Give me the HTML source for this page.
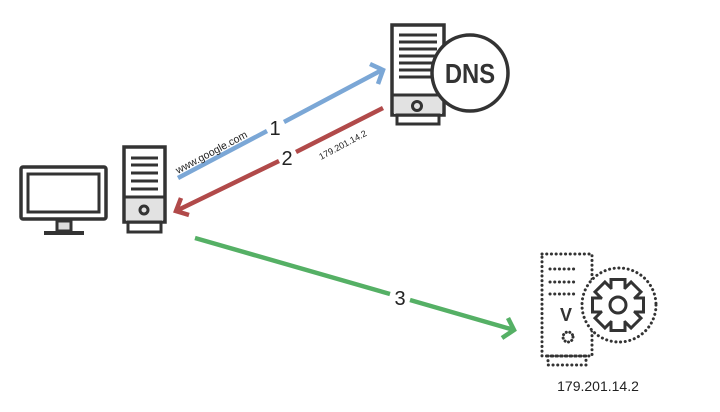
<!DOCTYPE html>
<html><head><meta charset="utf-8"><style>
html,body{margin:0;padding:0;background:#fff;}
svg{display:block;font-family:"Liberation Sans","DejaVu Sans",sans-serif;}
</style></head><body>
<svg width="720" height="412" viewBox="0 0 720 412" xmlns="http://www.w3.org/2000/svg">
<defs>
 <g id="gear">
  <rect x="-5.5" y="-24" width="11" height="12"/>
  <rect x="-5.5" y="-24" width="11" height="12" transform="rotate(45)"/>
  <rect x="-5.5" y="-24" width="11" height="12" transform="rotate(90)"/>
  <rect x="-5.5" y="-24" width="11" height="12" transform="rotate(135)"/>
  <rect x="-5.5" y="-24" width="11" height="12" transform="rotate(180)"/>
  <rect x="-5.5" y="-24" width="11" height="12" transform="rotate(225)"/>
  <rect x="-5.5" y="-24" width="11" height="12" transform="rotate(270)"/>
  <rect x="-5.5" y="-24" width="11" height="12" transform="rotate(315)"/>
  <circle r="17"/>
 </g>
</defs>
<rect width="720" height="412" fill="#fff"/>
<g stroke="#333" stroke-width="3.5" fill="none">
 <!-- monitor -->
 <rect x="21" y="167" width="85" height="52" rx="2"/>
 <rect x="28" y="174" width="71" height="38" stroke-width="3"/>
 <rect x="57" y="221" width="14" height="10" fill="#ddd" stroke-width="3"/>
 <line x1="44" y1="233" x2="84" y2="233" stroke-width="4"/>
 <!-- pc tower -->
 <rect x="124" y="147" width="41" height="75" fill="#fff"/>
 <rect x="126" y="197" width="37" height="24" fill="#e2e2e2" stroke="none"/>
 <line x1="124" y1="197" x2="165" y2="197" stroke-width="3"/>
 <g stroke-width="3"><line x1="131" y1="158" x2="158" y2="158"/><line x1="131" y1="165" x2="158" y2="165"/><line x1="131" y1="173" x2="158" y2="173"/><line x1="131" y1="181" x2="158" y2="181"/><line x1="131" y1="189" x2="158" y2="189"/></g>
 <circle cx="144" cy="210" r="4" stroke-width="3"/>
 <rect x="128" y="222" width="33" height="10" stroke-width="3"/>
 <!-- DNS tower -->
 <rect x="392" y="25" width="52" height="90" fill="#fff"/>
 <rect x="394" y="95" width="48" height="19" fill="#e2e2e2" stroke="none"/>
 <line x1="392" y1="95" x2="444" y2="95" stroke-width="3"/>
 <g stroke-width="3"><line x1="399" y1="35" x2="437" y2="35"/><line x1="399" y1="42" x2="437" y2="42"/><line x1="399" y1="49" x2="437" y2="49"/><line x1="399" y1="56" x2="437" y2="56"/><line x1="399" y1="63" x2="437" y2="63"/><line x1="399" y1="70" x2="437" y2="70"/><line x1="399" y1="77" x2="437" y2="77"/></g>
 <circle cx="417" cy="106" r="4.5" stroke-width="3"/>
 <rect x="397" y="115" width="42" height="9" stroke-width="3"/>
 <circle cx="470" cy="73" r="38" fill="#fff" stroke-width="3.5"/>
</g>
<text transform="translate(470,83) scale(0.85,1)" text-anchor="middle" font-size="28" font-weight="bold" fill="#333">DNS</text>

<!-- arrows -->
<g stroke-width="4.5" fill="none" stroke-linecap="butt">
 <path d="M178,178 L267,131 M284,122 L382,70" stroke="#7ba7d6"/>
 <path d="M370,64 L383,70 L378,84" stroke="#7ba7d6"/>
 <path d="M383,108 L296,152 M279,161 L176,211" stroke="#b14a4a"/>
 <path d="M181,198 L176,211 L189,215" stroke="#b14a4a"/>
 <path d="M195,238 L390,294 M410,300 L514,330" stroke="#55b065"/>
 <path d="M508,318 L514,330 L502,338" stroke="#55b065"/>
</g>
<text x="275" y="135" font-size="20" fill="#222" text-anchor="middle">1</text>
<text x="287" y="165" font-size="20" fill="#222" text-anchor="middle">2</text>
<text x="400" y="305" font-size="20" fill="#222" text-anchor="middle">3</text>
<text transform="translate(178,174) rotate(-28)" font-size="10.5" fill="#222">www.google.com</text>
<text transform="translate(321,160) rotate(-28)" font-size="9" fill="#222">179.201.14.2</text>

<!-- web server dotted -->
<g stroke="#333" stroke-width="3" fill="none" stroke-dasharray="0.1 4.6" stroke-linecap="round">
 <rect x="542" y="254" width="50" height="102"/>
 <rect x="548" y="356" width="38" height="9"/>
 <line x1="550" y1="269" x2="575" y2="269"/>
 <line x1="550" y1="282" x2="575" y2="282"/>
 <line x1="550" y1="294" x2="575" y2="294"/>
 <circle cx="568" cy="337" r="5" stroke-dasharray="0.1 3.5"/>
 <circle cx="619" cy="305" r="37" fill="#fff"/>
</g>
<text x="566" y="321" font-size="18" font-weight="bold" fill="#333" text-anchor="middle">V</text>
<g transform="translate(618,305)">
 <use href="#gear" fill="#333" stroke="#333" stroke-width="6" stroke-linejoin="miter"/>
 <use href="#gear" fill="#fff" stroke="none"/>
 <circle r="8" fill="none" stroke="#333" stroke-width="3"/>
</g>
<text x="598" y="391" font-size="14" fill="#222" text-anchor="middle">179.201.14.2</text>
</svg>
</body></html>
